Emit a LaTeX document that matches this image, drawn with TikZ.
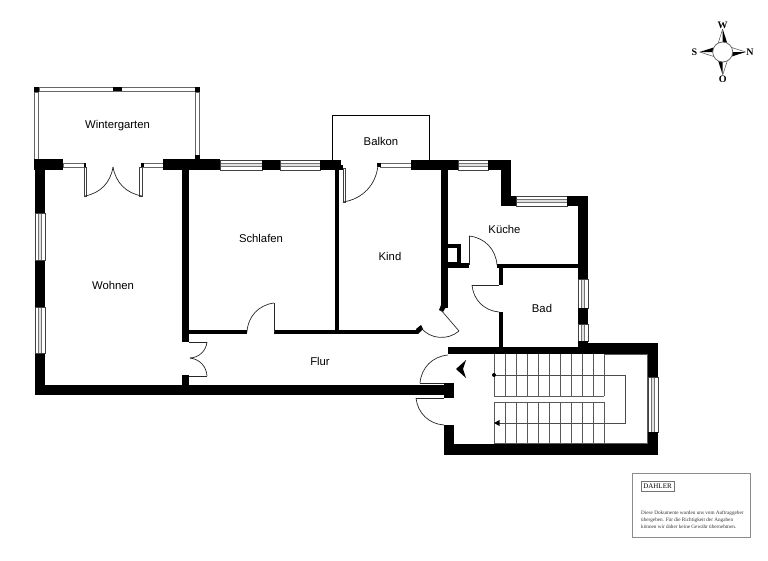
\documentclass[tikz,border=0pt]{standalone}
\usepackage{fontspec}
\setmainfont{Liberation Sans}
\newfontfamily\legendfont{Liberation Serif}
\tikzset{
  wall/.style={fill=black},
  room/.style={font=\fontsize{11.3}{13}\selectfont,inner sep=0pt},
  leaf/.style={draw=black!75,line width=0.9pt,fill=white},
  swing/.style={draw=black!85,line width=0.7pt},
  stepline/.style={draw=black!65,line width=1pt},
  walkline/.style={draw=black!70,line width=0.9pt},
  winline/.style={draw=black!55,line width=0.7pt},
  compassletter/.style={font=\legendfont\bfseries\fontsize{10}{11}\selectfont,inner sep=0pt},
}
% x1 x2 y1 y2
\newcommand{\WinH}[4]{
  \fill[white] (#1,#3) rectangle (#2,#4);
  \fill[black!12] (#1,{#3+(#4-#3)*0.36}) rectangle (#2,{#3+(#4-#3)*0.64});
  \draw[winline] (#1,{#3+(#4-#3)*0.36}) -- (#2,{#3+(#4-#3)*0.36});
  \draw[winline] (#1,{#3+(#4-#3)*0.64}) -- (#2,{#3+(#4-#3)*0.64});
  \draw[black!75,line width=0.8pt] (#1,#3) rectangle (#2,#4);
}
\newcommand{\WinV}[4]{
  \fill[white] (#1,#3) rectangle (#2,#4);
  \fill[black!12] ({#1+(#2-#1)*0.36},#3) rectangle ({#1+(#2-#1)*0.64},#4);
  \draw[winline] ({#1+(#2-#1)*0.36},#3) -- ({#1+(#2-#1)*0.36},#4);
  \draw[winline] ({#1+(#2-#1)*0.64},#3) -- ({#1+(#2-#1)*0.64},#4);
  \draw[black!75,line width=0.8pt] (#1,#3) rectangle (#2,#4);
}
\newcommand{\WinThin}[4]{
  \draw[black!60,line width=0.9pt,fill=white] (#1,#3) rectangle (#2,#4);
}
\begin{document}
\begin{tikzpicture}[x=1pt,y=-1pt]
\useasboundingbox (0,0) rectangle (768,560);
% wintergarten
\WinThin{39}{195}{87.5}{91.5}
\WinThin{34.5}{38.5}{92}{159}
\WinThin{195.5}{199.5}{92}{159}
\fill[wall] (34,87) rectangle (39,92);
\fill[wall] (195,87) rectangle (200,92);
\fill[wall] (113,87) rectangle (122,91);
\fill[wall] (195,155) rectangle (200,160);
% outer walls left
\fill[wall] (34,159) rectangle (63,170);
\fill[wall] (35,159) rectangle (45,213);
\fill[wall] (35,260) rectangle (45,307);
\fill[wall] (35,353) rectangle (45,395);
\fill[wall] (35,385) rectangle (447,395);
\WinV{35}{45}{213}{260}
\WinV{35}{45}{307}{353}
% top wall
\WinThin{63}{84}{163}{167}
\WinThin{142}{164}{163}{167}
\fill[wall] (83.5,163) rectangle (86,167);
\fill[wall] (141,163) rectangle (143.5,167);
\fill[wall] (163,159) rectangle (220,170);
\WinH{220}{262}{160}{170}
\fill[wall] (262,160) rectangle (280,170);
\WinH{280}{320}{160}{170}
\fill[wall] (320,160) rectangle (341,170);
\WinThin{380}{411}{163}{167}
\fill[wall] (377,163) rectangle (381,167);
\fill[wall] (411,160) rectangle (458,170);
\WinH{458}{488}{160}{170}
\fill[wall] (488,160) rectangle (511,170);
\fill[wall] (501,160) rectangle (511,206);
\fill[wall] (501,196) rectangle (516,206);
\WinH{516}{567}{196}{206}
\fill[wall] (567,196) rectangle (588,206);
\fill[wall] (578,196) rectangle (588,279);
\WinV{578}{588}{279}{308}
\fill[wall] (578,308) rectangle (588,324);
\WinV{578}{588}{324}{341}
\fill[wall] (578,341) rectangle (588,350);
% inner walls
\fill[wall] (182,159) rectangle (189,342);
\fill[wall] (182,375) rectangle (189,390);
\fill[wall] (189,330) rectangle (247,334);
\fill[wall] (274,330) rectangle (418,334);
\fill[wall] (335,165) rectangle (339,330);
\fill[wall] (441,165) rectangle (448,308);
\fill[wall] (441,305) -- (447,305) -- (443,312) -- (439,310) -- cycle;
\fill[wall] (416,329) -- (421,325) -- (423,329) -- (418,334) -- cycle;
% chimney
\fill[wall] (447,244) rectangle (461,268);
\fill[white] (447.5,248) rectangle (456.5,262);
\fill[wall] (447,263) rectangle (469,268);
\fill[wall] (497,264) rectangle (578,268);
\fill[wall] (499,264) rectangle (503,285);
\fill[wall] (499,312) rectangle (503,347);
% balcony
\draw[line width=0.9pt] (332,160) -- (332,115.5) -- (429.5,115.5) -- (429.5,160);
% stair walls
\fill[wall] (448,347) rectangle (580,354);
\fill[wall] (580,343) rectangle (658,354);
\fill[wall] (648,343) rectangle (658,377);
\WinV{648}{658}{377}{432}
\fill[wall] (648,432) rectangle (658,455);
\fill[wall] (444,444) rectangle (658,455);
\fill[wall] (444,425) rectangle (454,455);
\fill[wall] (444,383) rectangle (454,398);
% stairs
\foreach \sx in {494,505,516,527,538,549,560,571,582,593,604} {
  \draw[stepline] (\sx,354) -- (\sx,396);
  \draw[stepline] (\sx,402) -- (\sx,444);
}
\draw[stepline] (494,396) -- (604,396);
\draw[stepline] (494,402) -- (604,402);
\draw[stepline] (604,354.3) -- (647.5,354.3) -- (647.5,443.7) -- (494,443.7);
\draw[walkline] (494,375) -- (625,375) -- (625,423) -- (498,423);
\fill[black] (494,375) circle (2);
\fill[black] (494,423) -- (499.5,420) -- (499.5,426) -- cycle;
\fill[black] (456,369) -- (466,360) -- (463,369) -- (466,378) -- cycle;
% doors
\draw[leaf] (84,167) rectangle (86.5,196);
\draw[leaf] (139.5,167) rectangle (142,196);
\draw[swing] (85,196) to[bend right=35] (113,167);
\draw[swing] (142,196) to[bend left=35] (113,167);
\draw[leaf] (343,168) rectangle (345.5,202);
\draw[swing] (343,202) to[bend right=38] (378,165);
\fill[wall] (339,165) rectangle (343,170);
\draw[swing] (469,236) -- (469,265);
\draw[swing] (469,236) to[bend left=40] (497,265);
\draw[swing] (472,285) -- (499,285);
\draw[swing] (472,285) to[bend right=40] (499,312);
\draw[swing] (247,332) to[bend left=40] (274,303);
\draw[swing] (274,303) -- (274,332);
\draw[swing] (189,342) -- (207,342);
\draw[swing] (207,342) to[bend left=40] (190,358);
\draw[swing] (189,376) -- (207,376);
\draw[swing] (207,376) to[bend right=40] (190,358);
\draw[swing] (441,310) -- (459,331);
\draw[swing] (459,331) to[bend left=45] (421,328);
\draw[swing] (420,383) -- (444,383);
\draw[swing] (420,383) to[bend left=40] (448,355);
\draw[swing] (416,398) -- (444,398);
\draw[swing] (416,398) to[bend right=40] (444,425);
% rooms
\node[room] (wintergarten) at (117.5,126) {Wintergarten};
\node[room] (balkon) at (381,141) {Balkon};
\node[room] (schlafen) at (261,238) {Schlafen};
\node[room] (kind) at (390,256) {Kind};
\node[room] (kueche) at (504.5,229) {Küche};
\node[room] (wohnen) at (113,285) {Wohnen};
\node[room] (bad) at (542,308) {Bad};
\node[room] (flur) at (320,361) {Flur};
% compass
\begin{scope}[shift={(722.7,52)}]
\foreach \ang in {0,90,180,270} {
  \begin{scope}[rotate=\ang]
  \fill[white] (0,-9) -- (0,-23) -- (-4.5,-9) -- cycle;
  \draw[black!70,line width=0.5pt] (-4.5,-9) -- (0,-23);
  \fill[black] (0,-9) -- (0,-23) -- (4.5,-9) -- cycle;
  \end{scope}
}
\draw[black!60,line width=0.8pt,fill=white] (0,0) circle (10);
\end{scope}
\node[compassletter] (nordW) at (722.7,25) {W};
\node[compassletter] (nordS) at (694.5,52) {S};
\node[compassletter] (nordN) at (750,52.5) {N};
\node[compassletter] (nordO) at (722.7,79) {O};
% legend
\draw[black!45,line width=0.6pt] (632.7,473) rectangle (750.7,537);
\node[draw=black!55,line width=0.5pt,minimum width=33pt,minimum height=10pt,inner sep=0pt,font=\legendfont\fontsize{7}{8}\selectfont] (dahler) at (657.5,486) {DAHLER};
\node[anchor=north west,inner sep=0pt,align=left,font=\legendfont\fontsize{5.2}{7}\selectfont,text=black!80] (legend) at (641,511) {Diese Dokumente wurden uns vom Auftraggeber\\übergeben. Für die Richtigkeit der Angaben\\können wir daher keine Gewähr übernehmen.};
\end{tikzpicture}
\end{document}
